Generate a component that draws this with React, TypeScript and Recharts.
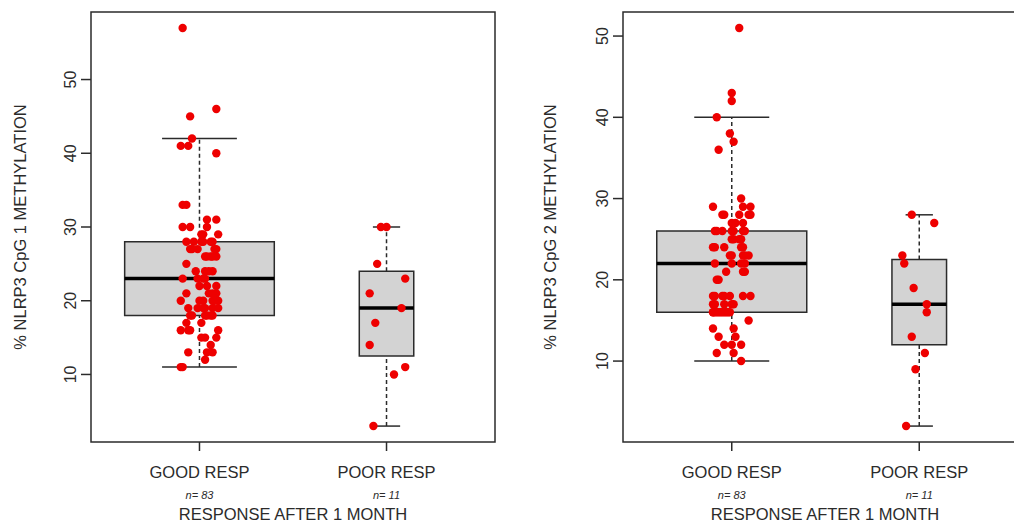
import React from 'react';
import { ComposedChart, Scatter, XAxis, YAxis, ReferenceArea, ReferenceLine } from 'recharts';

// group labels on the x axis
const groups = ['GOOD RESP', 'POOR RESP'];

// CpG 1 methylation (%), one value per patient, with the strip jitter
const cpg1GoodValues = [57, 46, 45, 42, 41, 41, 40, 33, 33, 31, 31, 30, 30, 30, 29, 29, 29, 28, 28, 28, 28, 28, 28, 27, 27, 27, 27, 27, 26, 26, 26, 26, 26, 25, 24, 24, 24, 24, 23, 23, 23, 23, 22, 22, 22, 21, 21, 21, 21, 20, 20, 20, 20, 20, 20, 19, 19, 19, 19, 19, 19, 18, 18, 18, 18, 18, 18, 17, 17, 16, 16, 16, 16, 15, 15, 15, 14, 13, 13, 13, 12, 11, 11];
const cpg1GoodJitter = [-0.09, 0.09, -0.05, -0.04, -0.1, -0.06, 0.09, -0.09, -0.07, 0.04, 0.09, -0.09, -0.05, 0.04, 0.01, 0.02, 0.1, -0.07, -0.03, 0.01, 0.07, 0.06, 0.02, -0.05, -0.01, 0.09, 0.08, -0.04, 0.04, 0.06, 0.09, 0.03, 0.07, -0.07, -0.02, 0.03, 0.07, 0.05, -0.09, -0.01, 0.02, 0.03, 0.0, 0.04, 0.09, -0.07, 0.05, 0.09, 0.07, -0.1, 0.0, 0.07, 0.1, 0.02, 0.08, -0.06, -0.01, 0.03, 0.1, 0.02, 0.07, -0.05, 0.04, 0.07, 0.06, -0.04, 0.03, -0.07, 0.01, -0.1, -0.05, 0.1, -0.06, 0.01, 0.03, 0.09, 0.06, -0.06, 0.04, 0.07, 0.03, -0.1, -0.09];
const cpg1PoorValues = [30, 30, 25, 23, 21, 19, 17, 14, 11, 10, 3];
const cpg1PoorJitter = [-0.03, 0.0, -0.05, 0.1, -0.09, 0.08, -0.06, -0.09, 0.1, 0.04, -0.07];

// CpG 2 methylation (%)
const cpg2GoodValues = [51, 43, 42, 40, 38, 37, 36, 30, 29, 29, 29, 28, 28, 28, 28, 28, 27, 27, 27, 26, 26, 26, 26, 26, 26, 26, 25, 25, 25, 25, 24, 24, 24, 24, 24, 23, 23, 23, 23, 23, 22, 22, 22, 22, 21, 21, 21, 20, 20, 18, 18, 18, 18, 18, 18, 18, 17, 17, 17, 17, 17, 16, 16, 16, 16, 16, 16, 16, 16, 16, 16, 16, 15, 14, 14, 13, 13, 12, 12, 12, 11, 11, 10];
const cpg2GoodJitter = [0.04, 0.0, 0.0, -0.08, -0.01, 0.01, -0.07, 0.05, -0.1, 0.06, 0.1, -0.05, -0.04, 0.04, 0.09, 0.1, 0.0, 0.02, 0.06, -0.09, -0.05, 0.0, 0.06, 0.07, -0.08, 0.01, 0.0, 0.05, 0.01, 0.04, -0.1, -0.04, 0.05, -0.09, 0.06, -0.01, 0.06, 0.09, 0.0, 0.07, -0.09, 0.0, 0.05, 0.07, -0.03, 0.06, 0.07, -0.08, -0.07, -0.1, -0.05, -0.01, 0.06, 0.1, -0.09, -0.04, -0.1, -0.04, 0.01, -0.09, 0.0, -0.1, -0.08, -0.05, -0.03, -0.01, -0.1, -0.09, -0.07, -0.06, -0.04, -0.02, 0.09, -0.1, 0.01, -0.07, 0.02, -0.04, 0.0, 0.05, -0.08, 0.01, 0.05];
const cpg2PoorValues = [28, 27, 23, 22, 19, 17, 16, 13, 11, 9, 2];
const cpg2PoorJitter = [-0.04, 0.08, -0.09, -0.08, -0.03, 0.04, 0.04, -0.04, 0.03, -0.02, -0.07];

const yTicks = [10, 20, 30, 40, 50];

const FONT = '"Liberation Sans", Arial, sans-serif';
const INK = '#2b2b2b';
const RED = '#ee0000';

// Tukey hinges like R's boxplot.stats
function boxStats(vals: number[]) {
  const s = [...vals].sort((a, b) => a - b);
  const n = s.length;
  const n4 = Math.floor((n + 3) / 2) / 2;
  const at = (d: number) => 0.5 * (s[Math.floor(d - 1)] + s[Math.ceil(d - 1)]);
  const q1 = at(n4);
  const med = at((n + 1) / 2);
  const q3 = at(n + 1 - n4);
  const iqr = q3 - q1;
  const lo = s.find((v) => v >= q1 - 1.5 * iqr) as number;
  const hi = [...s].reverse().find((v) => v <= q3 + 1.5 * iqr) as number;
  return { n, q1, med, q3, lo, hi };
}

function Panel({ good, goodJit, poor, poorJit, width, left, right }: any) {
  const all = [...good, ...poor];
  const mn = Math.min(...all);
  const mx = Math.max(...all);
  const pad = (mx - mn) * 0.04;
  const yDomain = [mn - pad, mx + pad];
  const xDomain = [0.42, 2.58];

  const stats = [boxStats(good), boxStats(poor)];
  const nMax = Math.max(stats[0].n, stats[1].n);

  const goodPts = good.map((v: number, i: number) => ({ x: 1 + goodJit[i], y: v }));
  const poorPts = poor.map((v: number, i: number) => ({ x: 2 + poorJit[i], y: v }));

  const dot = (p: any) => <circle cx={p.cx} cy={p.cy} r={4.2} fill={RED} />;

  const XTick = (p: any) => {
    const i = p.payload.value - 1;
    return (
      <g>
        <text x={p.x} y={p.y + 27} textAnchor="middle" fontFamily={FONT} fontSize={16.5} fill={INK}>
          {groups[i]}
        </text>
        <text x={p.x} y={p.y + 48} textAnchor="middle" fontFamily={FONT} fontSize={11} fontStyle="italic" fill={INK}>
          {'n= ' + stats[i].n}
        </text>
      </g>
    );
  };

  const YTick = (p: any) => (
    <text
      x={0}
      y={0}
      transform={`translate(${p.x - 5},${p.y}) rotate(-90)`}
      textAnchor="middle"
      fontFamily={FONT}
      fontSize={16}
      fill={INK}
    >
      {p.payload.value}
    </text>
  );

  return (
    <ComposedChart
      width={width}
      height={524}
      margin={{ top: 12, right: right, bottom: 22, left: left - 60 }}
    >
      <XAxis
        type="number"
        dataKey="x"
        domain={xDomain}
        ticks={[1, 2]}
        allowDataOverflow
        axisLine={false}
        tickLine={{ stroke: INK, strokeWidth: 1.5 }}
        tickSize={9}
        tickMargin={0}
        height={60}
        tick={XTick}
      />
      <YAxis
        type="number"
        dataKey="y"
        domain={yDomain}
        ticks={yTicks}
        allowDataOverflow
        axisLine={false}
        tickLine={{ stroke: INK, strokeWidth: 1.5 }}
        tickSize={10}
        tickMargin={0}
        width={60}
        tick={YTick}
      />
      <ReferenceArea
        x1={xDomain[0]}
        x2={xDomain[1]}
        y1={yDomain[0]}
        y2={yDomain[1]}
        fill="none"
        stroke={INK}
        strokeWidth={1.5}
        ifOverflow="visible"
      />
      {stats.map((st, i) => {
        const g = i + 1;
        const hw = 0.4 * Math.sqrt(st.n / nMax);
        return (
          <React.Fragment key={g}>
            <ReferenceLine segment={[{ x: g, y: st.q3 }, { x: g, y: st.hi }]} stroke={INK} strokeWidth={1.5} strokeDasharray="4 3" />
            <ReferenceLine segment={[{ x: g, y: st.lo }, { x: g, y: st.q1 }]} stroke={INK} strokeWidth={1.5} strokeDasharray="4 3" />
            <ReferenceLine segment={[{ x: g - hw / 2, y: st.hi }, { x: g + hw / 2, y: st.hi }]} stroke={INK} strokeWidth={1.5} />
            <ReferenceLine segment={[{ x: g - hw / 2, y: st.lo }, { x: g + hw / 2, y: st.lo }]} stroke={INK} strokeWidth={1.5} />
            <ReferenceArea x1={g - hw} x2={g + hw} y1={st.q1} y2={st.q3} fill="#d3d3d3" fillOpacity={1} stroke={INK} strokeWidth={1.5} />
            <ReferenceLine segment={[{ x: g - hw, y: st.med }, { x: g + hw, y: st.med }]} stroke="#000" strokeWidth={3.5} />
          </React.Fragment>
        );
      })}
      <Scatter data={goodPts} shape={dot} isAnimationActive={false} />
      <Scatter data={poorPts} shape={dot} isAnimationActive={false} />
    </ComposedChart>
  );
}

export default function App() {
  return (
    <div style={{ position: 'absolute', left: 0, top: 0, width: 1014, height: 524, overflow: 'hidden', background: '#fff' }}>
      <div style={{ position: 'absolute', left: 0, top: 0 }}>
        <Panel good={cpg1GoodValues} goodJit={cpg1GoodJitter} poor={cpg1PoorValues} poorJit={cpg1PoorJitter} width={510} left={91} right={15} />
      </div>
      <div style={{ position: 'absolute', left: 530, top: 0 }}>
        <Panel good={cpg2GoodValues} goodJit={cpg2GoodJitter} poor={cpg2PoorValues} poorJit={cpg2PoorJitter} width={520} left={93} right={22} />
      </div>
      <svg width={1014} height={524} style={{ position: 'absolute', left: 0, top: 0, pointerEvents: 'none' }}>
        <g fontFamily={FONT} fontSize={16.5} fill={INK}>
          <text x={293} y={520} textAnchor="middle">RESPONSE AFTER 1 MONTH</text>
          <text x={825} y={520} textAnchor="middle">RESPONSE AFTER 1 MONTH</text>
          <text transform="translate(26,227) rotate(-90)" textAnchor="middle">% NLRP3 CpG 1 METHYLATION</text>
          <text transform="translate(556,227) rotate(-90)" textAnchor="middle">% NLRP3 CpG 2 METHYLATION</text>
        </g>
      </svg>
    </div>
  );
}
